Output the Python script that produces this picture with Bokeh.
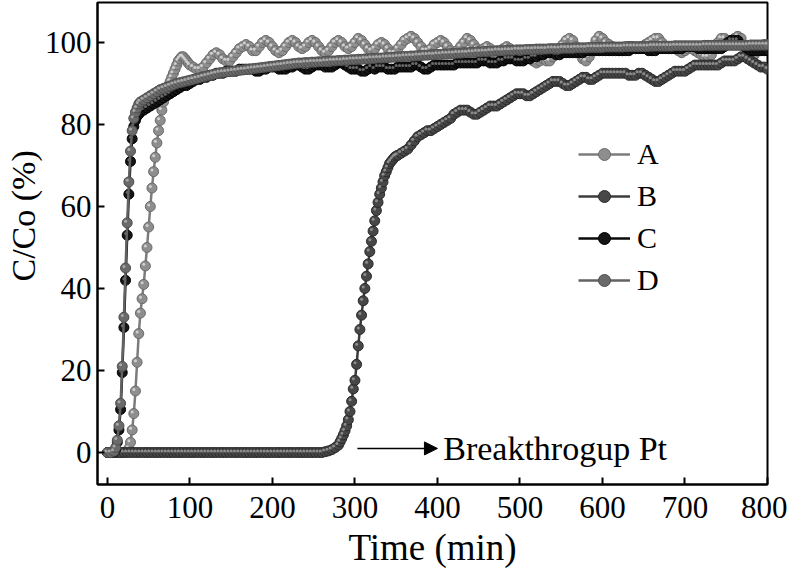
import numpy as np
from bokeh.plotting import figure
from bokeh.models import (Range1d, Legend, LegendItem, Title, Arrow, NormalHead,
                          FixedTicker, ColumnDataSource)
from bokeh.core.properties import value
from bokeh.embed import file_html
from bokeh.resources import INLINE

# ---------------- data ----------------
# Series A
A_t = list(range(0, 24, 4)) + list(range(24, 100, 2)) + list(range(100, 801, 4))
A_v = [0, 0, 0, 0, 0, 0,
       0.3, 1, 2.5, 5.5, 9.5, 15, 22, 29, 34, 37.5,
       41, 45.5, 50, 55, 60, 64.5, 68.5, 72, 75.5, 78.5,
       81, 83.5, 85.5, 87, 88.5, 89.5, 90.5, 91.5, 92.5, 93.5,
       94.5, 95.5, 96, 96.5, 96.5, 96, 95.5, 95,
       94.5, 94, 93.5, 93.5, 94,
       95, 96, 97, 97.5, 97, 96,
       95.5, 95.5, 96.5, 97.5, 98.5,
       99, 99.5, 99, 98, 98, 99, 100, 100.5, 100, 99,
       98, 97.5, 98, 99, 100, 100.5, 100, 99, 98.5, 99,
       100, 100.5, 100, 99, 98, 97.5, 98, 99, 100, 100.5,
       100, 99, 98.5, 99, 100, 101, 100.5, 99.5, 98.5, 98,
       98.5, 99.5, 100, 99.5, 98.5, 97.5, 97.5, 98.5, 99.5, 100.5,
       101, 101.5, 101, 100, 99, 98, 98, 98.5, 99.5, 100,
       100.5, 100, 99, 98, 97.5, 98, 99, 100, 101, 100.5,
       99.5, 98.5, 98, 98.5, 99, 98.5, 97.5, 97, 97.5, 98.5,
       99, 98.5, 97.5, 97, 97.5, 98, 97.5, 96.5, 95.5, 95,
       95.5, 96, 95.5, 95.5, 96.5, 97.5, 98.5, 99.5, 100.5, 101,
       100.5, 99, 97.5, 96, 95.5, 96.5, 98.5, 100.5, 101.5, 101,
       100, 99.5, 99, 98.5, 98, 98, 98.5, 99, 99, 98.5,
       98.5, 99, 99.5, 100, 100.5, 101, 101, 100, 99, 98.5,
       98.5, 98.5, 98, 97.5, 98, 98.5, 98.5, 98, 97.5, 97,
       96.5, 96.5, 97, 98.5, 100, 101, 101, 100.5, 100.5, 101,
       101.5, 101, 99, 97, 96.5, 97, 98, 99, 99.5, 99.5]

# Series B
B_t = list(range(0, 280, 4)) + list(range(280, 352, 2)) + list(range(352, 801, 4))
B_v = [0] * 66 + [0.2, 0.4, 0.7, 1.2] + [
       1.8, 2.6, 3.4, 4.3, 5.3, 6.5, 8, 10, 12.5, 15.5,
       17.6, 21.5, 26, 30, 33.5, 37, 40, 43, 46, 49,
       51.5, 54, 56.5, 59, 61, 63, 64.5, 66, 67.5, 68.5,
       69.5, 70.5, 71, 71.5, 72, 72.3,
       72.5, 73, 73.5, 74, 75, 76, 77, 77.5, 78, 78.5,
       78.5, 79, 79.5, 80, 80.5, 81, 81.5, 82.5, 83, 83.5,
       83.5, 83.5, 83, 82.5, 82.5, 83, 83.5, 84, 84.5, 84.5,
       84.5, 85, 85.5, 86, 86.5, 87, 87.5, 87.5, 87.5, 87,
       87, 87.5, 88, 88.5, 89, 89.5, 90, 90.5, 90.5, 90.5,
       90, 89.5, 89.5, 90, 90.5, 91, 91.5, 91.5, 91, 91,
       91.5, 92, 92.5, 92.5, 92.5, 92.5, 92.5, 92.5, 92.5, 92.5,
       92, 92, 92, 92.5, 92.5, 92, 91.5, 91, 90.5, 90.5,
       91, 91.5, 92, 92.5, 93, 93, 93, 93, 93.5, 94,
       94.5, 94.5, 94.5, 94.5, 94.5, 94.5, 94.5, 94.5, 95, 95.5,
       95.5, 95.5, 95.5, 96, 96.5, 96.5, 96, 95.5, 95, 94.5,
       94, 94, 93.5]

# Series C
C_t = list(range(0, 10, 4)) + list(range(10, 42, 2)) + list(range(44, 801, 4))
C_v = [0, 0, 0.2,
       0.8, 2.5, 5.5, 10.5, 19.5, 30.5, 42, 53, 63, 71, 76.5, 79.5, 81, 82, 82.5, 83,
       83.5, 84, 84.5, 85, 85.5, 86, 86.5, 87, 87.5, 88,
       88.5, 89, 89.5, 89.5, 90, 90.5, 91, 91, 91.5, 91.5,
       92, 92, 92.5, 92.5, 92.5, 93, 93, 93, 93, 93.5,
       93.5, 93.5, 93.5, 93.5, 93, 93, 93.5, 93.5, 94, 94,
       94, 93.5, 93.5, 93.5, 94, 94, 94.5, 94.5, 94, 93.5,
       93.5, 94, 94.5, 94.5, 94.5, 94, 94, 94, 94.5, 95,
       95, 94.5, 94, 93.5, 93.5, 93.5, 93, 93, 93.5, 94,
       93.5, 94, 94, 94, 93.5, 93.5, 93.5, 94, 94, 94,
       94, 94, 94.5, 94.5, 94, 93.5, 93.5, 94, 94.5, 94.5,
       94.5, 94.5, 94.5, 94.5, 94.5, 95, 95, 95, 95, 95,
       95, 95, 95.5, 95.5, 95.5, 95, 95, 95, 95.5, 95.5,
       96, 96, 96, 95.5, 95.5, 95.5, 96, 96, 96.5, 96.5,
       97, 97, 97.5, 97.5, 97.5, 97, 97, 97.5, 97.5, 97.5,
       97.5, 97.5, 97.5, 97.5, 98, 98, 98, 98, 98, 98,
       98, 98, 98, 98, 98, 98, 98, 98, 98.5, 98.5,
       98.5, 98.5, 98.5, 98, 98, 98, 98.5, 98.5, 98.5, 98.5,
       98.5, 98.5, 98.5, 98.5, 99, 99, 99, 99, 98.5, 98.5,
       98.5, 98.5, 98.5, 98.5, 98.5, 98.5, 99, 100, 100.5, 100.5,
       100.5, 99.5, 99, 98.5, 98, 98, 98, 98, 98, 98]

# Series D
D_t = list(range(0, 10, 4)) + list(range(10, 42, 2)) + list(range(44, 801, 4))
D_v = [0, 0, 0.3,
       1.2, 3, 6.5, 12, 21, 33, 45, 56, 66, 73.5, 78.5, 81.5, 83, 84, 85, 85.5,
       86, 86.5, 87, 87.5, 88, 88.5, 88.8, 89.1, 89.4, 89.7,
       90, 90.2, 90.4, 90.6, 90.8, 91, 91.2, 91.4, 91.6, 91.8,
       92, 92.2, 92.4, 92.6, 92.7, 92.8, 92.9, 93, 93.1, 93.2,
       93.3, 93.4, 93.5, 93.6, 93.7, 93.8, 93.9, 94, 94.1, 94.2,
       94.3, 94.4, 94.5, 94.6, 94.7, 94.8, 94.9, 95, 95, 95.1,
       95.1, 95.2, 95.2, 95.3, 95.3, 95.4, 95.4, 95.5, 95.5, 95.6,
       95.6, 95.7, 95.7, 95.8, 95.8, 95.9, 95.9, 96, 96, 96.1,
       96.1, 96.2, 96.2, 96.3, 96.3, 96.4, 96.4, 96.5, 96.5, 96.6,
       96.6, 96.7, 96.7, 96.8, 96.8, 96.9, 96.9, 97, 97, 97.1,
       97.1, 97.2, 97.2, 97.3, 97.3, 97.4, 97.4, 97.5, 97.5, 97.6,
       97.6, 97.7, 97.7, 97.8, 97.8, 97.9, 97.9, 98, 98, 98,
       98.1, 98.1, 98.1, 98.2, 98.2, 98.2, 98.3, 98.3, 98.3, 98.4,
       98.4, 98.4, 98.4, 98.5, 98.5, 98.5, 98.5, 98.6, 98.6, 98.6,
       98.6, 98.7, 98.7, 98.7, 98.7, 98.8, 98.8, 98.8, 98.8, 98.8,
       98.9, 98.9, 98.9, 98.9, 98.9, 98.9, 99, 99, 99, 99,
       99, 99, 99, 99, 99.1, 99.1, 99.1, 99.1, 99.1, 99.1,
       99.1, 99.2, 99.2, 99.2, 99.2, 99.2, 99.2, 99.2, 99.2, 99.2,
       99.3, 99.3, 99.3, 99.3, 99.3, 99.3, 99.3, 99.3, 99.3, 99.3,
       99.3, 99.3, 99.3, 99.3, 99.4, 99.4, 99.4, 99.4, 99.4, 99.4]

labels = ["A", "B", "C", "D"]
x_ticks = [0, 100, 200, 300, 400, 500, 600, 700, 800]
y_ticks = [0, 20, 40, 60, 80, 100]
annotation = "Breakthrogup Pt"

series = [(A_t, A_v), (B_t, B_v), (C_t, C_v), (D_t, D_v)]
line_colors = ["#7c7c7c", "#3c3c3c", "#0a0a0a", "#626262"]
fill_colors = ["#8e8e8e", "#474747", "#151515", "#6a6a6a"]
edge_colors = ["#6a6a6a", "#2a2a2a", "#000000", "#4e4e4e"]
shine_colors = ["#dcdcdc", "#9a9a9a", "#7a7a7a", "#b4b4b4"]

FONT = "Liberation Serif"
X0, X1, Y0, Y1 = -12, 800, -7.8, 109.75
FW, FH = 670, 482

p = figure(output_backend="svg", toolbar_location=None,
           frame_width=FW, frame_height=FH,
           min_border_left=97, min_border_right=20,
           min_border_top=2, min_border_bottom=90,
           x_range=Range1d(X0, X1), y_range=Range1d(Y0, Y1))
p.background_fill_color = "white"
p.border_fill_color = "white"
p.outline_line_color = "black"
p.outline_line_width = 2
p.xgrid.visible = False
p.ygrid.visible = False

for ax in (p.xaxis[0], p.yaxis[0]):
    ax.axis_line_width = 2
    ax.axis_line_color = "black"
    ax.major_tick_in = 7
    ax.major_tick_out = 0
    ax.major_tick_line_width = 2
    ax.minor_tick_line_color = None
    ax.major_label_text_font = FONT
    ax.major_label_text_font_size = "31px"
    ax.major_label_text_color = "black"

p.xaxis.ticker = FixedTicker(ticks=x_ticks)
p.yaxis.ticker = FixedTicker(ticks=y_ticks)
p.xaxis.major_label_standoff = 12
p.yaxis.major_label_standoff = 6
p.xaxis.axis_label = "Time (min)"
p.xaxis.axis_label_text_font = FONT
p.xaxis.axis_label_text_font_size = "37px"
p.xaxis.axis_label_text_font_style = "normal"
p.xaxis.axis_label_text_color = "black"
p.xaxis.axis_label_standoff = 6

# y-axis title as a left-side title so it can sit where the original puts it
ytitle = Title(text="C/Co (%)", align="left", offset=203, standoff=0,
               text_font=FONT, text_font_size="34px", text_font_style="normal",
               text_color="black")
p.add_layout(ytitle, "left")

# pixel offsets of the sphere highlight, converted to data units
dx = -1.6 * (X1 - X0) / FW
dy = 1.6 * (Y1 - Y0) / FH

items = []
for (t, v), lab, lc, fc, ec, sc in zip(series, labels, line_colors, fill_colors,
                                       edge_colors, shine_colors):
    src = ColumnDataSource(dict(t=t, v=v, ts=[a + dx for a in t], vs=[b + dy for b in v]))
    lr = p.line("t", "v", source=src, line_color=lc, line_width=2.5)
    sr = p.scatter("t", "v", source=src, size=10, fill_color=fc, line_color=ec, line_width=1)
    p.scatter("ts", "vs", source=src, size=3, fill_color=sc, line_color=None, fill_alpha=0.85)
    items.append(LegendItem(label=lab, renderers=[lr, sr]))

legend = Legend(items=items, location=(481, 187))
legend.background_fill_alpha = 0
legend.border_line_color = None
legend.padding = 0
legend.margin = 0
legend.spacing = 8
legend.glyph_width = 52
legend.glyph_height = 30
legend.label_height = 30
legend.label_standoff = 7
legend.label_text_font = FONT
legend.label_text_font_size = "30px"
legend.label_text_color = "black"
p.add_layout(legend)

p.add_layout(Arrow(x_start=303, y_start=1, x_end=400, y_end=1, line_width=1.5,
                   line_color="black",
                   end=NormalHead(size=13, fill_color="black", line_color="black")))
p.text(x=[407], y=[1], text=[annotation], text_font=value(FONT), text_font_size="34px",
       text_baseline="middle", text_align="left", text_color="black")

open("out.html", "w").write(file_html(p, INLINE))
